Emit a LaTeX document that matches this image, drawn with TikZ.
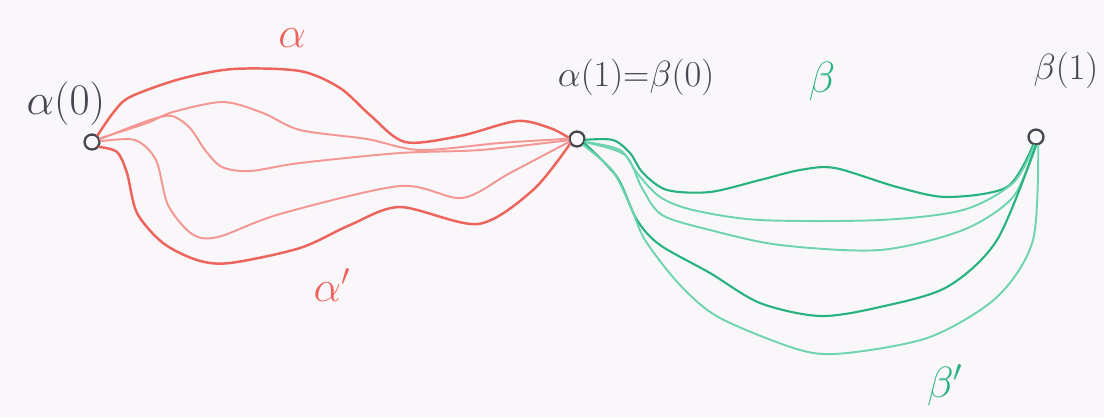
\documentclass[tikz,border=0pt]{standalone}
\usepackage{tikz}
\definecolor{bgcol}{RGB}{250,247,250}
\definecolor{redA}{RGB}{236,100,92}
\definecolor{redB}{RGB}{244,150,145}
\definecolor{greenA}{RGB}{40,178,125}
\definecolor{greenB}{RGB}{110,212,175}
\definecolor{ink}{RGB}{70,70,80}
\tikzset{
  pt/.style={circle, draw=ink, line width=1.3pt, minimum size=8.5pt, inner sep=0pt},
  lab/.style={text=ink, font=\fontsize{20}{24}\selectfont},
  redlab/.style={text=redA, font=\fontsize{24}{28}\selectfont},
  greenlab/.style={text=greenA, font=\fontsize{24}{28}\selectfont},
  pathA/.style={draw=redA, line width=1.4pt, line cap=round},
  pathAl/.style={draw=redB, line width=1.1pt, line cap=round},
  pathB/.style={draw=greenA, line width=1.2pt, line cap=round},
  pathBl/.style={draw=greenB, line width=1.1pt, line cap=round},
  sm/.style={smooth, tension=0.5},
}
\begin{document}
\begin{tikzpicture}[x=0.02cm, y=-0.02cm]
\fill[bgcol] (0,0) rectangle (1104,417);
\useasboundingbox (0,0) rectangle (1104,417);

\node[pt] (a0) at (92,142) {};
\node[pt] (a1) at (577,139) {};
\node[pt] (b1) at (1036,137) {};

\node[lab, font=\fontsize{23}{27}\selectfont] (la0) at (66,104) {$\alpha(0)$};
\node[lab] (la1) at (636,77) {$\alpha(1){=}\beta(0)$};
\node[lab] (lb1) at (1066,70) {$\beta(1)$};
\node[redlab] (lal) at (292,38) {$\alpha$};
\node[redlab] (lalp) at (332,285) {$\alpha'$};
\node[greenlab] (lbe) at (822,82) {$\beta$};
\node[greenlab] (lbep) at (945,385) {$\beta'$};

% red homotopic paths
\draw[pathA] plot[sm] coordinates {(a0.50) (113,113) (130,97) (180,79) (233,69) (300,71) (340,88) (370,115) (405,142) (460,136) (517,121) (550,128) (a1.170)};
\draw[pathAl] plot[sm] coordinates {(a0.25) (147,123) (173,112) (223,102) (263,113) (300,130) (367,139) (420,150) (500,143) (a1.178)};
\draw[pathAl] plot[sm] coordinates {(a0.20) (150,120) (172,116) (190,128) (205,150) (222,167) (250,171) (300,163) (400,153) (480,150) (a1.188)};
\draw[pathAl] plot[sm] coordinates {(a0.5) (135,140) (156,160) (168,205) (192,234) (218,237) (280,214) (400,186) (462,198) (510,173) (a1.200)};
\draw[pathA] plot[sm] coordinates {(a0.-35) (117,152) (127,173) (137,213) (163,243) (197,260) (230,263) (300,248) (350,225) (400,207) (478,224) (533,190) (a1.215)};

% green homotopic paths
\draw[pathB] plot[sm] coordinates {(a1.-5) (613,140) (630,153) (643,173) (667,190) (710,192) (760,180) (800,170) (835,168) (897,187) (947,197) (1007,187) (b1.250)};
\draw[pathBl] plot[sm] coordinates {(a1.-20) (620,150) (637,173) (660,197) (693,210) (760,220) (880,220) (963,210) (1013,183) (b1.258)};
\draw[pathBl] plot[sm] coordinates {(a1.-22) (625,155) (642,188) (662,215) (710,230) (780,245) (880,250) (963,230) (1013,197) (b1.265)};
\draw[pathB] plot[sm] coordinates {(a1.-30) (617,177) (637,220) (660,245) (710,273) (760,303) (820,316) (880,307) (947,287) (997,240) (b1.270)};
\draw[pathBl] plot[sm] coordinates {(a1.-45) (612,170) (630,205) (645,240) (680,285) (720,318) (800,350) (847,353) (930,337) (997,297) (1033,240) (b1.285)};
\end{tikzpicture}
\end{document}
